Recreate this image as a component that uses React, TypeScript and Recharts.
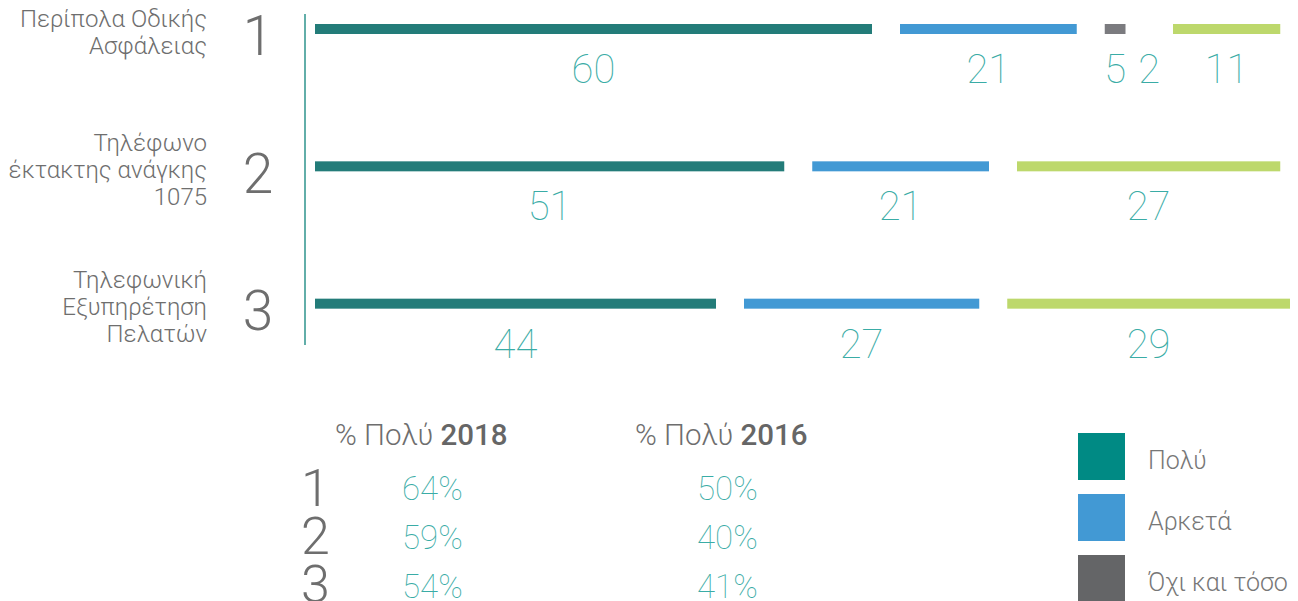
import React from 'react';
import { BarChart, Bar, XAxis, YAxis, LabelList } from 'recharts';

const categories = ['Περίπολα Οδικής\nΑσφάλειας', 'Τηλέφωνο\nέκτακτης ανάγκης\n1075', 'Τηλεφωνική\nΕξυπηρέτηση\nΠελατών'];
const rankLabels = ['1', '2', '3'];

const seriesKeys = ['poly', 'arketa', 'oxi', 'katholou', 'dk'];
const seriesNames = ['Πολύ', 'Αρκετά', 'Όχι και τόσο', 'Καθόλου', 'ΔΓ/ΔΑ'];
const barColors = ['#237c79', '#4299d4', '#7b7b7f', '#5ec4a8', '#bdd86c'];
const legendColors = ['#008a84', '#4299d4', '#646567', '#5ec4a8', '#bdd86c'];

const polyValues = [60, 51, 44];
const arketaValues = [21, 21, 27];
const oxiValues = [5, 0, 0];
const katholouValues = [2, 0, 0];
const dkValues = [11, 27, 29];

const tableHeaders = [['% Πολύ ', '2018'], ['% Πολύ ', '2016']];
const pct2018 = ['64%', '59%', '54%'];
const pct2016 = ['50%', '40%', '41%'];

const legendVisible = 3;

const data = categories.map((c, i) => ({
  name: c,
  rank: rankLabels[i],
  poly: polyValues[i],
  arketa: arketaValues[i],
  oxi: oxiValues[i],
  katholou: katholouValues[i],
  dk: dkValues[i],
}));

const GAP = 28;
const TEAL_TEXT = '#3aaca6';
const GRAY_TEXT = '#6e6e6e';

const CategoryTick = (props: any) => {
  const { x, y, payload, index } = props;
  const lines = String(payload.value).split('\n');
  const lh = 27;
  const fs = 24;
  const blockCenter = y + 3;
  const firstBaseline = blockCenter - ((lines.length - 1) * lh) / 2 + fs * 0.355;
  const numFs = 55;
  return (
    <g>
      <text x={x - 108} y={firstBaseline} textAnchor="end" fontSize={fs} fontWeight={300} fill={GRAY_TEXT} fontFamily="Roboto">
        {lines.map((l, i) => (
          <tspan key={i} x={x - 108} y={firstBaseline + i * lh}>{l}</tspan>
        ))}
      </text>
      <text x={x - 57} y={y + 7 + numFs * 0.355} textAnchor="middle" fontSize={numFs} fontWeight={300} fill={GRAY_TEXT} fontFamily="Roboto">
        {rankLabels[index] ?? ''}
      </text>
    </g>
  );
};

const makeShape = (gap: number) => (props: any) => {
  const { x, y, width, height, fill } = props;
  const w = width - gap;
  if (!width || w <= 0) return <g />;
  return <rect x={x} y={y} width={w} height={height} fill={fill} />;
};

const makeLabel = (gap: number) => (props: any) => {
  const { x, y, width, height, value } = props;
  if (!value) return null;
  const cx = Number(x) + (Number(width) - gap) / 2;
  return (
    <text x={cx} y={Number(y) + Number(height) + 49} textAnchor="middle" fontSize={40} fontWeight={100} fill={TEAL_TEXT} fontFamily="Roboto">
      {value}
    </text>
  );
};

export default function App() {
  return (
    <div style={{ position: 'absolute', left: 0, top: 0, width: 1298, height: 601, overflow: 'hidden', background: '#fff', fontFamily: 'Roboto' }}>
      <BarChart
        width={1298}
        height={380}
        data={data}
        layout="vertical"
        margin={{ top: -40, right: 8, bottom: 8, left: 0 }}
        barSize={10}
      >
        <XAxis type="number" domain={[0, 100]} hide />
        <YAxis
          type="category"
          dataKey="name"
          width={315}
          axisLine={false}
          tickLine={false}
          tickSize={0}
          tickMargin={0}
          tick={<CategoryTick />}
          interval={0}
        />
        {seriesKeys.map((k, i) => {
          const gap = i === seriesKeys.length - 1 ? 0 : GAP;
          return (
            <Bar key={k} dataKey={k} name={seriesNames[i]} stackId="a" fill={barColors[i]} isAnimationActive={false} shape={makeShape(gap)}>
              <LabelList dataKey={k} content={makeLabel(gap)} />
            </Bar>
          );
        })}
      </BarChart>

      <div style={{ position: 'absolute', left: 304, top: 14, width: 2, height: 331, background: '#62aea9' }} />

      {tableHeaders.map((h, j) => (
        <div key={j} style={{ position: 'absolute', left: j === 0 ? 335 : 635, top: 415, fontSize: 29.5, lineHeight: '40px', color: GRAY_TEXT, whiteSpace: 'nowrap' }}>
          <span style={{ fontWeight: 300 }}>{h[0]}</span>
          <span style={{ fontWeight: 500, color: '#666' }}>{h[1]}</span>
        </div>
      ))}
      {rankLabels.map((r, i) => (
        <React.Fragment key={r}>
          <div style={{ position: 'absolute', left: 301, top: 469 + i * 48, fontSize: 52, lineHeight: '40px', fontWeight: 300, color: GRAY_TEXT }}>{r}</div>
          <div style={{ position: 'absolute', left: 402, top: 473 + i * 49, fontSize: 33, lineHeight: '32px', fontWeight: 100, color: TEAL_TEXT }}>{pct2018[i]}</div>
          <div style={{ position: 'absolute', left: 697, top: 473 + i * 49, fontSize: 33, lineHeight: '32px', fontWeight: 100, color: TEAL_TEXT }}>{pct2016[i]}</div>
        </React.Fragment>
      ))}

      {seriesNames.slice(0, legendVisible).map((n, i) => (
        <React.Fragment key={n}>
          <div style={{ position: 'absolute', left: 1078, top: 433 + i * 61, width: 47, height: 47, background: legendColors[i] }} />
          <div style={{ position: 'absolute', left: 1148, top: 446 + i * 61, fontSize: 25, lineHeight: '30px', fontWeight: 300, color: '#777' }}>{n}</div>
        </React.Fragment>
      ))}
    </div>
  );
}
